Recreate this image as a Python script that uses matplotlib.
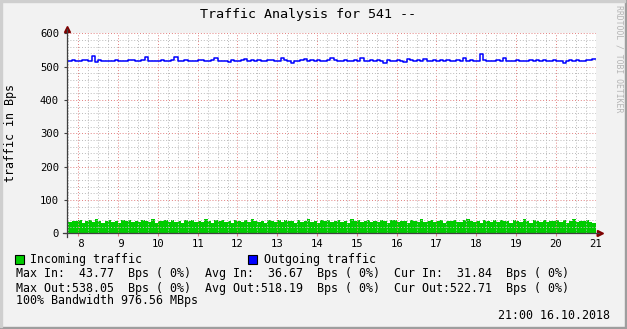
import numpy as np
import matplotlib.pyplot as plt
from matplotlib.patches import Rectangle
from matplotlib.lines import Line2D
from matplotlib.ticker import MultipleLocator, FixedLocator

# time axis: hours of day, one sample every 5 minutes, last one ends at 21:00
end_hour = 21.0
step_hour = 5 / 60

incoming = [40, 33, 38, 36, 41, 31, 37, 39, 34, 42, 36, 32, 38, 40, 35, 37, 30, 39, 36, 41, 34, 38, 33, 40, 37, 35, 42, 31, 38, 36, 39, 34,
            41, 35, 37, 32, 39, 36, 40, 33, 38, 35, 42, 37, 31, 39, 36, 40, 34, 38, 32, 41, 37, 35, 39, 33, 43.77, 36, 34, 38, 31, 40, 37, 35,
            39, 33, 41, 36, 38, 32, 40, 35, 37, 42, 34, 38, 31, 39, 36, 41, 33, 37, 40, 35, 38, 32, 42, 36, 39, 34, 37, 41, 33, 38, 35, 40,
            36, 32, 39, 41, 34, 37, 38, 31, 40, 36, 35, 42, 33, 38, 39, 34, 37, 41, 32, 38, 36, 40, 35, 33, 39, 42, 36, 34, 38, 31, 40, 37,
            35, 39, 33, 41, 37, 36, 32, 40, 38, 34, 42, 36, 31, 39, 37, 35, 41, 33, 38, 36, 40, 34, 39, 32, 37, 42, 35, 38, 36, 40, 34, 31.84]

outgoing = [518, 517, 519, 516, 518, 520, 519, 518, 531, 515, 519, 518, 517, 516, 518, 519, 517, 518, 516, 520, 519, 518, 517, 519, 528, 517, 518, 516, 517, 519, 518, 517,
            519, 530, 518, 517, 519, 518, 516, 518, 520, 519, 517, 518, 519, 527, 518, 516, 518, 513, 519, 518, 517, 519, 523, 518, 519, 517, 519, 516, 518, 519, 520, 517,
            518, 525, 519, 518, 510, 516, 517, 519, 524, 518, 519, 517, 520, 516, 518, 519, 526, 520, 518, 517, 519, 516, 518, 519, 517, 525, 518, 517, 520, 516, 519, 518,
            511, 519, 518, 517, 519, 518, 514, 523, 519, 518, 519, 517, 524, 518, 517, 520, 516, 519, 518, 521, 516, 518, 519, 517, 525, 518, 520, 517, 518, 538.05, 519, 518,
            516, 518, 519, 517, 525, 518, 517, 518, 519, 516, 518, 517, 519, 518, 520, 517, 519, 518, 517, 519, 516, 518, 510, 518, 519, 517, 520, 518, 517, 519, 521, 522.71]

hour_ticks = list(range(8, 22))
legend_names = ['Incoming traffic', 'Outgoing traffic']
max_in, avg_in, cur_in = 43.77, 36.67, 31.84
max_out, avg_out, cur_out = 538.05, 518.19, 522.71
bandwidth = '976.56 MBps'
stamp = '21:00 16.10.2018'

W, H = 627, 329
MONO = 'DejaVu Sans Mono'
plt.rcParams['font.family'] = MONO


def fx(x):
    return x / W


def fy(y):
    return 1 - y / H


fig = plt.figure(figsize=(W / 100, H / 100), dpi=100, facecolor='#f2f2f2')

# frame shading like rrdtool
fig.patches.append(Rectangle((0, fy(329)), 1, 2 / H, transform=fig.transFigure, color='#9e9e9e', zorder=0))
fig.patches.append(Rectangle((fx(625), 0), 2 / W, 1, transform=fig.transFigure, color='#9e9e9e', zorder=0))
fig.patches.append(Rectangle((0, fy(2)), fx(625), 2 / H, transform=fig.transFigure, color='#cfcfcf', zorder=0))
fig.patches.append(Rectangle((0, fy(327)), 2 / W, fy(2) - fy(327), transform=fig.transFigure, color='#cfcfcf', zorder=0))

left, right, top, bottom = 66.7, 595.7, 33.3, 233.3
ax = fig.add_axes([fx(left), fy(bottom), (right - left) / W, (bottom - top) / H])
ax.set_facecolor('white')

n = len(incoming)
t = end_hour - n * step_hour + step_hour * np.arange(n + 1)
inc = np.append(incoming, incoming[-1])
out = np.append(outgoing, outgoing[-1])

ax.fill_between(t, 0, inc, step='post', color='#00cc00', lw=0, zorder=1)
ax.step(t, out, where='post', color='#0000ff', lw=1.1, zorder=3)

ax.set_xlim(7.71, 21.0)
ax.set_ylim(0, 600)

ax.xaxis.set_major_locator(FixedLocator(hour_ticks))
ax.set_xticklabels(['%2d' % h for h in hour_ticks])
ax.xaxis.set_minor_locator(MultipleLocator(0.25))
ax.yaxis.set_major_locator(MultipleLocator(100))
ax.yaxis.set_minor_locator(MultipleLocator(20))

ax.set_axisbelow(False)
ax.grid(which='minor', color='#bdbdbd', lw=0.72, linestyle=(0, (1, 1.9)))
ax.grid(which='major', color='#e38585', lw=0.72, linestyle=(0, (1, 1.9)))

for s in ax.spines.values():
    s.set_visible(False)
ax.tick_params(axis='both', which='minor', length=0)
ax.tick_params(axis='y', which='major', length=2.5, color='#404040', pad=3, labelsize=7.6)
ax.tick_params(axis='x', which='major', length=2.5, color='#e38585', pad=1.5, labelsize=7.6)

# axes with arrows
fig.add_artist(Line2D([fx(left)] * 2, [fy(237), fy(29)], transform=fig.transFigure, color='#404040', lw=0.9))
fig.add_artist(Line2D([fx(63), fx(599)], [fy(bottom)] * 2, transform=fig.transFigure, color='#404040', lw=0.9))
ax.plot([0], [1.02], marker='^', ms=4.5, color='#7f0000', transform=ax.transAxes, clip_on=False, zorder=5)
ax.plot([1.008], [0], marker='>', ms=4.5, color='#7f0000', transform=ax.transAxes, clip_on=False, zorder=5)

fig.text(fx(308.5), fy(18.3), 'Traffic Analysis for 541 --', ha='center', va='baseline', fontsize=9.6)
fig.text(fx(11), fy(133), 'traffic in Bps', ha='center', va='center', rotation=90, fontsize=8.4)
fig.text(fx(618.5), fy(5), 'RRDTOOL / TOBI OETIKER', ha='center', va='top', rotation=270, fontsize=5.9, color='#b5b5b5')

# legend
for name, color, bx in zip(legend_names, ['#00cc00', '#0000ff'], [15, 248]):
    fig.patches.append(Rectangle((fx(bx), fy(264)), 9 / W, 9 / H, transform=fig.transFigure,
                                 facecolor=color, edgecolor='black', lw=0.8))
    fig.text(fx(bx + 15.5), fy(262.7), name, ha='left', va='baseline', fontsize=8.4)

line_in = 'Max In:%7.2f  Bps ( 0%%)  Avg In:%7.2f  Bps ( 0%%)  Cur In:%7.2f  Bps ( 0%%)' % (max_in, avg_in, cur_in)
line_out = 'Max Out:%6.2f  Bps ( 0%%)  Avg Out:%6.2f  Bps ( 0%%)  Cur Out:%6.2f  Bps ( 0%%)' % (max_out, avg_out, cur_out)
fig.text(fx(16), fy(277.3), line_in, ha='left', va='baseline', fontsize=8.4)
fig.text(fx(16), fy(291.7), line_out, ha='left', va='baseline', fontsize=8.4)
fig.text(fx(16), fy(304.3), '100% Bandwidth ' + bandwidth, ha='left', va='baseline', fontsize=8.4)
fig.text(fx(610), fy(319), stamp, ha='right', va='baseline', fontsize=8.4)

fig.savefig('out.png', dpi=100, facecolor=fig.get_facecolor())
